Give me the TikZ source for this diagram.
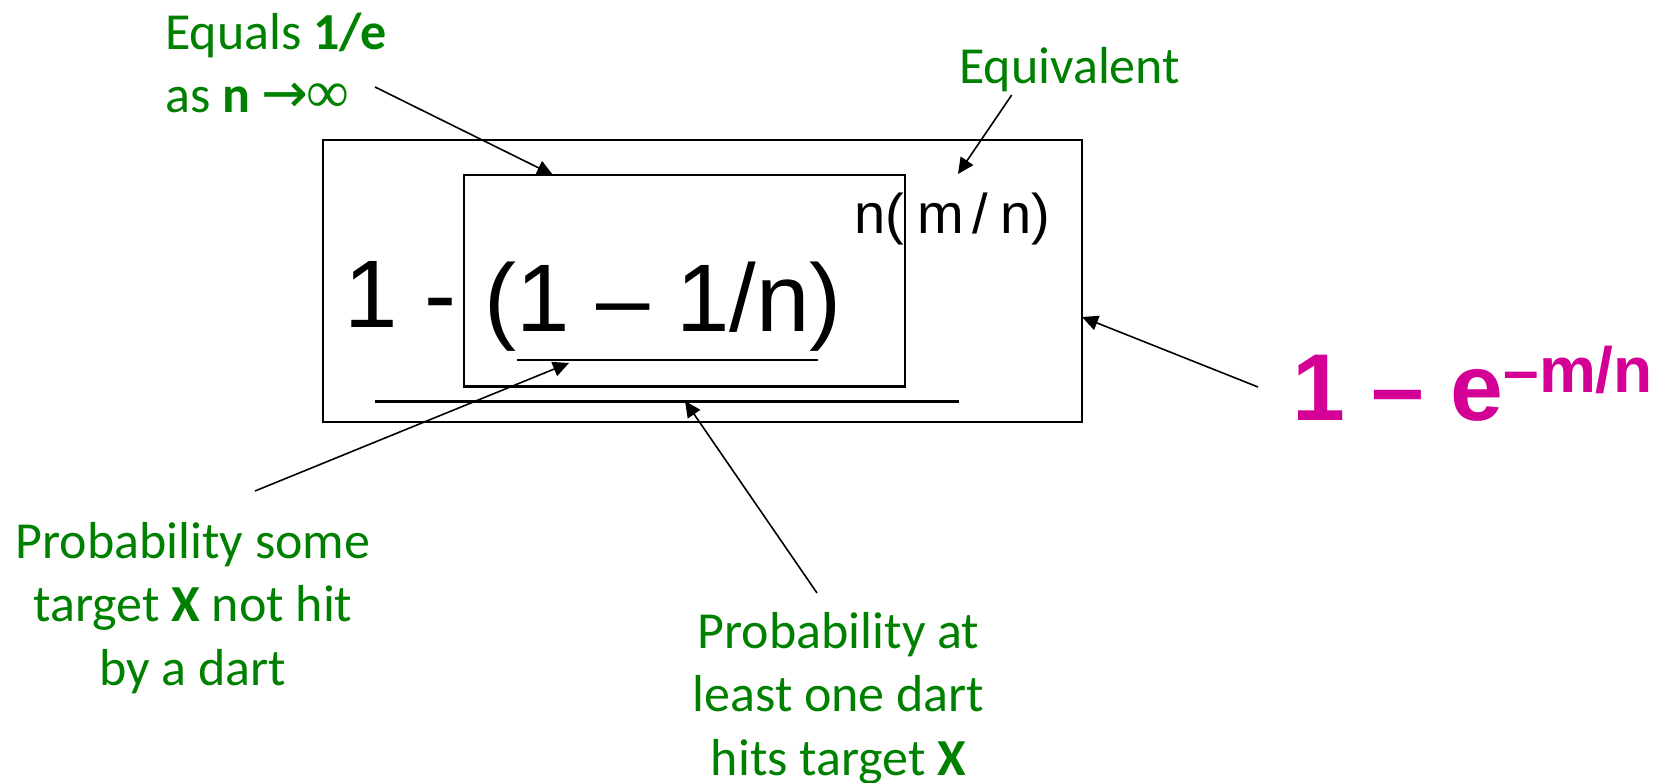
\documentclass[tikz,border=0pt]{standalone}
\usepackage{fontspec}
\setmainfont{Liberation Sans}
\newfontfamily\greenfont{Carlito}
\newfontfamily\arrfont{DejaVu Sans}
\newfontfamily\inffont{Liberation Serif}
\usetikzlibrary{arrows.meta}
\definecolor{lblgreen}{RGB}{0,128,0}
\definecolor{magentaf}{RGB}{212,0,150}
\begin{document}
\begin{tikzpicture}[x=1pt,y=-1pt,
  lbl/.style={text=lblgreen, font=\greenfont\fontsize{52}{63.5}\selectfont, inner sep=0pt, align=center},
  boxst/.style={draw, line width=2.2pt, inner sep=0pt},
  conn/.style={line width=1.6pt, -{Triangle[length=16pt,width=15pt]}},
  uline/.style={line width=2.4pt},
  mathtxt/.style={anchor=base west, inner sep=0pt}]
\useasboundingbox (0,0) rectangle (1659,783);
% boxes
\node[boxst, minimum width=758.7pt, minimum height=282pt] (outer) at (702.3,281) {};
\node[boxst, minimum width=441pt, minimum height=211.5pt] (inner) at (684.5,280.75) {};
% formula
\node[mathtxt, font=\fontsize{96}{96}\selectfont] (one) at (344,328) {1 -};
\node[mathtxt, font=\fontsize{96}{96}\selectfont] (paren) at (484,331.7) {(1 – 1/n)};
\node[mathtxt, font=\fontsize{56}{56}\selectfont] (expo) at (854,234)
  {n(\hspace{13.4pt}m\hspace{8pt}/\hspace{12.7pt}n)};
\node[mathtxt, text=magentaf, font=\bfseries\fontsize{95}{95}\selectfont] (limit) at (1292,420)
  {1 – e\raisebox{28pt}{\fontsize{64}{64}\selectfont –m/n}};
% underlines
\coordinate (u1a) at (517,360); \coordinate (u1b) at (818,360);
\coordinate (u2a) at (375,401.5); \coordinate (u2b) at (958.7,401.5);
\draw[uline] (u1a) -- (u1b);
\draw[uline] (u2a) -- (u2b);
% labels (base anchor = baseline of last line)
\node[lbl, anchor=base west, align=left] (equals) at (165,113)
  {Equals \textbf{1/e}\\as \textbf{n} {\arrfont\fontsize{56}{56}\selectfont →}\kern-2pt{\inffont\fontsize{60}{60}\selectfont ∞}};
\node[lbl, anchor=base west] (equiv) at (959,83.3) {Equivalent};
\node[lbl, anchor=base] (some) at (193,685) {Probability some\\target \textbf{X} not hit\\by a dart};
\node[lbl, anchor=base] (atleast) at (838.5,775) {Probability at\\least one dart\\hits target \textbf{X}};
% connector ends
\coordinate (a1s) at (375,87);    \coordinate (a1e) at (553,175);
\coordinate (a2s) at (1011.7,95); \coordinate (a2e) at (958,174);
\coordinate (a3s) at (1258,387);  \coordinate (a3e) at (1082,317);
\coordinate (a4s) at (255,491);   \coordinate (a4e) at (569,363);
\coordinate (a5s) at (817,593);   \coordinate (a5e) at (685,401);
\draw[conn] (a1s) -- (a1e);
\draw[conn] (a2s) -- (a2e);
\draw[conn] (a3s) -- (a3e);
\draw[conn] (a4s) -- (a4e);
\draw[conn] (a5s) -- (a5e);
\end{tikzpicture}
\end{document}
